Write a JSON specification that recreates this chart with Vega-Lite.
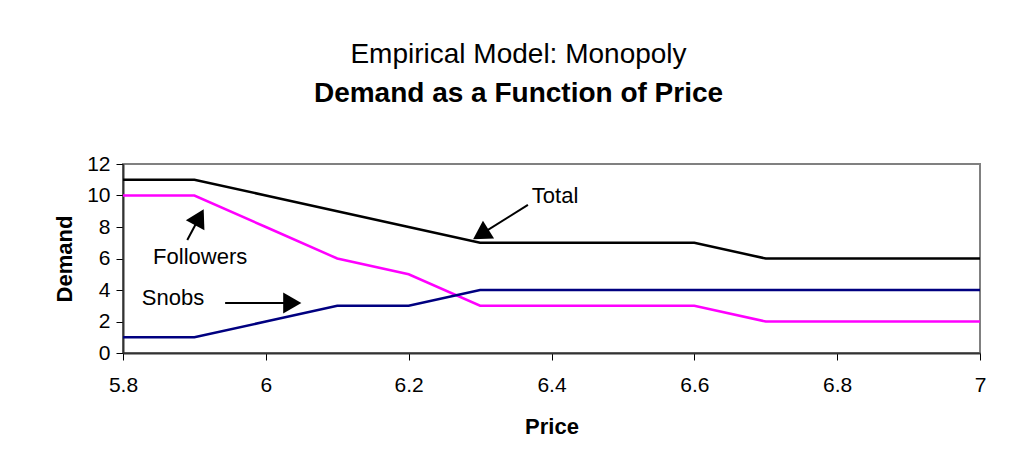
{
  "$schema": "https://vega.github.io/schema/vega-lite/v6.json",
  "width": 857,
  "height": 189,
  "autosize": "none",
  "padding": {"left": 123, "top": 164, "right": 41, "bottom": 122},
  "background": "white",
  "config": {
    "font": "Liberation Sans",
    "view": {"stroke": "#808080", "strokeWidth": 2},
    "axis": {
      "grid": false,
      "domainColor": "#333333",
      "domainWidth": 2,
      "tickColor": "#000000",
      "tickSize": 7,
      "labelOverlap": false,
      "labelFlush": false,
      "labelFont": "Liberation Sans",
      "labelFontSize": 21,
      "labelColor": "#000000",
      "titleFont": "Liberation Sans",
      "titleFontSize": 22,
      "titleFontWeight": "bold",
      "titleColor": "#000000"
    },
    "axisX": {"labelPadding": 14, "titlePadding": 21},
    "axisY": {"labelPadding": 6, "titlePadding": 10}
  },
  "title": {
    "text": "Empirical Model: Monopoly",
    "subtitle": "Demand as a Function of Price",
    "anchor": "middle",
    "frame": "group",
    "dx": -33,
    "offset": 45,
    "font": "Liberation Sans",
    "fontSize": 28,
    "fontWeight": "normal",
    "color": "#000000",
    "subtitleFont": "Liberation Sans",
    "subtitleFontSize": 28,
    "subtitleFontWeight": "bold",
    "subtitleColor": "#000000",
    "subtitlePadding": 11
  },
  "datasets": {
    "series": [
      {"Price": 5.8, "Demand": 11, "Series": "Total"},
      {"Price": 5.9, "Demand": 11, "Series": "Total"},
      {"Price": 6.0, "Demand": 10, "Series": "Total"},
      {"Price": 6.1, "Demand": 9, "Series": "Total"},
      {"Price": 6.2, "Demand": 8, "Series": "Total"},
      {"Price": 6.3, "Demand": 7, "Series": "Total"},
      {"Price": 6.4, "Demand": 7, "Series": "Total"},
      {"Price": 6.5, "Demand": 7, "Series": "Total"},
      {"Price": 6.6, "Demand": 7, "Series": "Total"},
      {"Price": 6.7, "Demand": 6, "Series": "Total"},
      {"Price": 6.8, "Demand": 6, "Series": "Total"},
      {"Price": 6.9, "Demand": 6, "Series": "Total"},
      {"Price": 7.0, "Demand": 6, "Series": "Total"},
      {"Price": 5.8, "Demand": 10, "Series": "Followers"},
      {"Price": 5.9, "Demand": 10, "Series": "Followers"},
      {"Price": 6.0, "Demand": 8, "Series": "Followers"},
      {"Price": 6.1, "Demand": 6, "Series": "Followers"},
      {"Price": 6.2, "Demand": 5, "Series": "Followers"},
      {"Price": 6.3, "Demand": 3, "Series": "Followers"},
      {"Price": 6.4, "Demand": 3, "Series": "Followers"},
      {"Price": 6.5, "Demand": 3, "Series": "Followers"},
      {"Price": 6.6, "Demand": 3, "Series": "Followers"},
      {"Price": 6.7, "Demand": 2, "Series": "Followers"},
      {"Price": 6.8, "Demand": 2, "Series": "Followers"},
      {"Price": 6.9, "Demand": 2, "Series": "Followers"},
      {"Price": 7.0, "Demand": 2, "Series": "Followers"},
      {"Price": 5.8, "Demand": 1, "Series": "Snobs"},
      {"Price": 5.9, "Demand": 1, "Series": "Snobs"},
      {"Price": 6.0, "Demand": 2, "Series": "Snobs"},
      {"Price": 6.1, "Demand": 3, "Series": "Snobs"},
      {"Price": 6.2, "Demand": 3, "Series": "Snobs"},
      {"Price": 6.3, "Demand": 4, "Series": "Snobs"},
      {"Price": 6.4, "Demand": 4, "Series": "Snobs"},
      {"Price": 6.5, "Demand": 4, "Series": "Snobs"},
      {"Price": 6.6, "Demand": 4, "Series": "Snobs"},
      {"Price": 6.7, "Demand": 4, "Series": "Snobs"},
      {"Price": 6.8, "Demand": 4, "Series": "Snobs"},
      {"Price": 6.9, "Demand": 4, "Series": "Snobs"},
      {"Price": 7.0, "Demand": 4, "Series": "Snobs"}
    ],
    "notes": [
      {"label": "Total", "tx": 6.405, "ty": 9.97, "sx": 6.367, "sy": 9.40, "hx": 6.301, "hy": 7.53},
      {"label": "Followers", "tx": 5.908, "ty": 6.10, "sx": 5.890, "sy": 7.17, "hx": 5.907, "hy": 8.62},
      {"label": "Snobs", "tx": 5.870, "ty": 3.52, "sx": 5.943, "sy": 3.17, "hx": 6.037, "hy": 3.17}
    ]
  },
  "layer": [
    {
      "data": {"name": "series"},
      "mark": {"type": "line", "strokeWidth": 2.5},
      "encoding": {
        "x": {
          "field": "Price",
          "type": "quantitative",
          "scale": {"domain": [5.8, 7], "nice": false, "zero": false},
          "axis": {"values": [5.8, 6, 6.2, 6.4, 6.6, 6.8, 7], "format": "~g"},
          "title": "Price"
        },
        "y": {
          "field": "Demand",
          "type": "quantitative",
          "scale": {"domain": [0, 12], "nice": false},
          "axis": {"values": [0, 2, 4, 6, 8, 10, 12]},
          "title": "Demand"
        },
        "color": {
          "field": "Series",
          "type": "nominal",
          "scale": {"domain": ["Total", "Followers", "Snobs"], "range": ["#000000", "#FF00FF", "#000080"]},
          "legend": null
        },
        "detail": {"field": "Series"}
      }
    },
    {
      "data": {"name": "notes"},
      "mark": {"type": "rule", "color": "#000000", "strokeWidth": 2},
      "encoding": {
        "x": {"field": "sx", "type": "quantitative", "title": "Price", "axis": {"values": [5.8, 6, 6.2, 6.4, 6.6, 6.8, 7], "format": "~g"}},
        "y": {"field": "sy", "type": "quantitative", "title": "Demand", "axis": {"values": [0, 2, 4, 6, 8, 10, 12]}},
        "x2": {"field": "hx"},
        "y2": {"field": "hy"}
      }
    },
    {
      "data": {"name": "notes"},
      "transform": [{"filter": "datum.label === 'Total'"}],
      "mark": {"type": "point", "shape": "triangle-up", "filled": true, "color": "#000000", "size": 441, "opacity": 1, "angle": 238},
      "encoding": {
        "x": {"field": "hx", "type": "quantitative", "title": "Price", "axis": {"values": [5.8, 6, 6.2, 6.4, 6.6, 6.8, 7], "format": "~g"}},
        "y": {"field": "hy", "type": "quantitative", "title": "Demand", "axis": {"values": [0, 2, 4, 6, 8, 10, 12]}}
      }
    },
    {
      "data": {"name": "notes"},
      "transform": [{"filter": "datum.label === 'Followers'"}],
      "mark": {"type": "point", "shape": "triangle-up", "filled": true, "color": "#000000", "size": 441, "opacity": 1, "angle": 28},
      "encoding": {
        "x": {"field": "hx", "type": "quantitative", "title": "Price", "axis": {"values": [5.8, 6, 6.2, 6.4, 6.6, 6.8, 7], "format": "~g"}},
        "y": {"field": "hy", "type": "quantitative", "title": "Demand", "axis": {"values": [0, 2, 4, 6, 8, 10, 12]}}
      }
    },
    {
      "data": {"name": "notes"},
      "transform": [{"filter": "datum.label === 'Snobs'"}],
      "mark": {"type": "point", "shape": "triangle-up", "filled": true, "color": "#000000", "size": 441, "opacity": 1, "angle": 90},
      "encoding": {
        "x": {"field": "hx", "type": "quantitative", "title": "Price", "axis": {"values": [5.8, 6, 6.2, 6.4, 6.6, 6.8, 7], "format": "~g"}},
        "y": {"field": "hy", "type": "quantitative", "title": "Demand", "axis": {"values": [0, 2, 4, 6, 8, 10, 12]}}
      }
    },
    {
      "data": {"name": "notes"},
      "mark": {"type": "text", "fontSize": 22, "font": "Liberation Sans", "color": "#000000", "align": "center", "baseline": "middle"},
      "encoding": {
        "x": {"field": "tx", "type": "quantitative", "title": "Price", "axis": {"values": [5.8, 6, 6.2, 6.4, 6.6, 6.8, 7], "format": "~g"}},
        "y": {"field": "ty", "type": "quantitative", "title": "Demand", "axis": {"values": [0, 2, 4, 6, 8, 10, 12]}},
        "text": {"field": "label"}
      }
    }
  ]
}
